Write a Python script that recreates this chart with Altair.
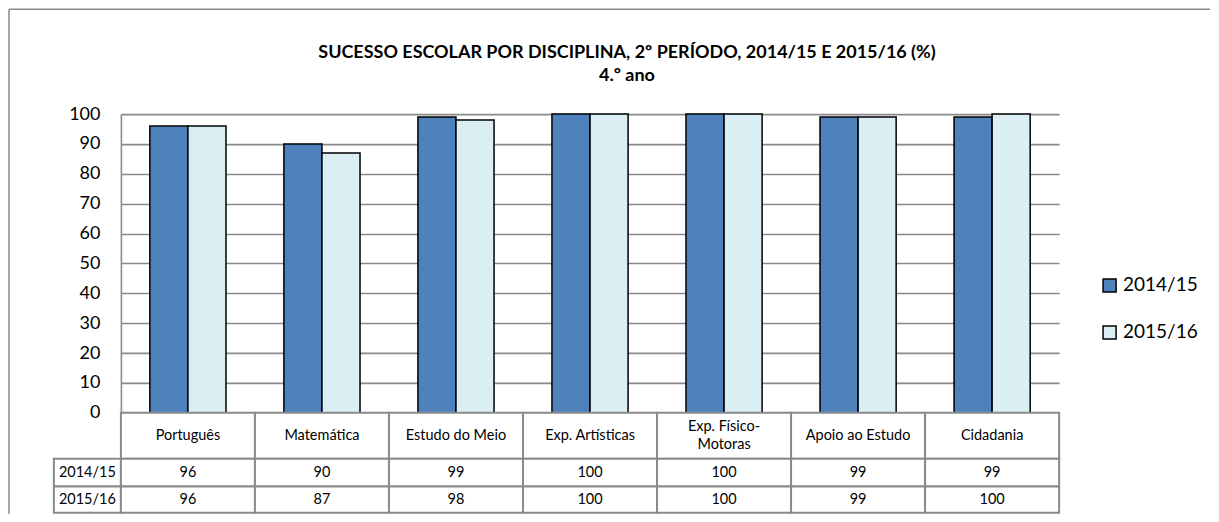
import altair as alt
import pandas as pd

# ---------------- data ----------------
categories = ["Português", "Matemática", "Estudo do Meio", "Exp. Artísticas",
              "Exp. Físico-\nMotoras", "Apoio ao Estudo", "Cidadania"]
series = ["2014/15", "2015/16"]
values_2014_15 = [96, 90, 99, 100, 100, 99, 99]
values_2015_16 = [96, 87, 98, 100, 100, 99, 100]
y_ticks = [0, 10, 20, 30, 40, 50, 60, 70, 80, 90, 100]
colors = ["#4F81BD", "#DBEEF4"]
title_lines = ["SUCESSO ESCOLAR POR DISCIPLINA, 2º PERÍODO, 2014/15 E 2015/16 (%)",
               "4.º ano"]

# ---------------- layout / style ----------------
FONT = "Lato"
GRID = "#8a8a8a"
BAR_W = 0.284                     # bar width in category units
HEADER = (0, -15.4)               # table header row, y units below zero
ROWS = {"2014/15": (-15.4, -24.7), "2015/16": (-24.7, -33.5)}
Y_DOMAIN = [-33.5, 100]
W, H = 939, 399
LINE_H = 18
PX_PER_UNIT = H / (Y_DOMAIN[1] - Y_DOMAIN[0])

all_vals = [values_2014_15, values_2015_16]

bars = []
for s_i, (name, vals) in enumerate(zip(series, all_vals)):
    for i, (cat, v) in enumerate(zip(categories, vals)):
        bars.append({"cat": cat, "series": name, "value": v,
                     "x0": i + 0.5 + (s_i - 1) * BAR_W,
                     "x1": i + 0.5 + s_i * BAR_W})
bars_df = pd.DataFrame(bars)

cells = []
for i, cat in enumerate(categories):
    cells.append({"text": cat, "x0": i, "x1": i + 1, "y0": HEADER[0], "y1": HEADER[1]})
for name, vals in zip(series, all_vals):
    top, bot = ROWS[name]
    cells.append({"text": name, "x0": -0.5, "x1": 0, "y0": top, "y1": bot})
    for i, v in enumerate(vals):
        cells.append({"text": str(v), "x0": i, "x1": i + 1, "y0": top, "y1": bot})
cells_df = pd.DataFrame(cells)
cells_df["xm"] = (cells_df["x0"] + cells_df["x1"]) / 2
n_lines = cells_df["text"].str.count("\n")
cells_df["ym"] = ((cells_df["y0"] + cells_df["y1"]) / 2
                  + n_lines * (LINE_H / 2) / PX_PER_UNIT)

xs = alt.Scale(domain=[0, 7], nice=False, zero=False)
ys = alt.Scale(domain=Y_DOMAIN, nice=False, zero=False)
y_axis = alt.Axis(values=y_ticks, grid=True, gridColor=GRID, gridWidth=1.6,
                  domainColor=GRID, domainWidth=1.6, ticks=False,
                  labelPadding=21, labelFontSize=18, labelFont=FONT,
                  labelColor="black", title=None)

frame_df = pd.DataFrame({"k": [0]})
frame_top = alt.Chart(frame_df).mark_rule(color=GRID, strokeWidth=1.5).encode(
    x=alt.value(-112), x2=alt.value(1090), y=alt.value(-105))
frame_left = alt.Chart(frame_df).mark_rule(color=GRID, strokeWidth=1.5).encode(
    x=alt.value(-112), y=alt.value(-105), y2=alt.value(400))

bar_layer = alt.Chart(bars_df).mark_rect(stroke="black", strokeWidth=1.5).encode(
    x=alt.X("x0:Q", scale=xs, axis=None),
    x2="x1:Q",
    y=alt.Y("value:Q", scale=ys, axis=y_axis),
    y2=alt.datum(0),
    color=alt.Color("series:N", scale=alt.Scale(domain=series, range=colors),
                    legend=alt.Legend(title=None, orient="none", legendX=980, legendY=162,
                                      padding=0, symbolType="square", symbolSize=170,
                                      symbolStrokeColor="black", symbolStrokeWidth=1.5,
                                      symbolOpacity=1,
                                      labelFont=FONT, labelFontSize=19, labelColor="black",
                                      labelOffset=4, rowPadding=26)),
)

table_rects = alt.Chart(cells_df).mark_rect(fill="white", stroke=GRID, strokeWidth=2).encode(
    x=alt.X("x0:Q", scale=xs, axis=None),
    x2="x1:Q",
    y=alt.Y("y0:Q", scale=ys, axis=y_axis),
    y2="y1:Q",
)

table_text = alt.Chart(cells_df).mark_text(font=FONT, fontSize=14.5, color="black",
                                           lineBreak="\n", lineHeight=LINE_H).encode(
    x=alt.X("xm:Q", scale=xs, axis=None),
    y=alt.Y("ym:Q", scale=ys, axis=y_axis),
    text="text:N",
)

chart = alt.layer(frame_top, frame_left, bar_layer, table_rects, table_text).properties(
    width=W, height=H, padding=0,
    title=alt.TitleParams(text=title_lines, font=FONT, fontSize=18, fontWeight="bold",
                          anchor="middle", frame="group", dx=37, offset=-77,
                          lineHeight=23, color="black"),
).configure_view(stroke=None)

chart.save("out.html", embed_options={"renderer": "svg", "actions": False})
